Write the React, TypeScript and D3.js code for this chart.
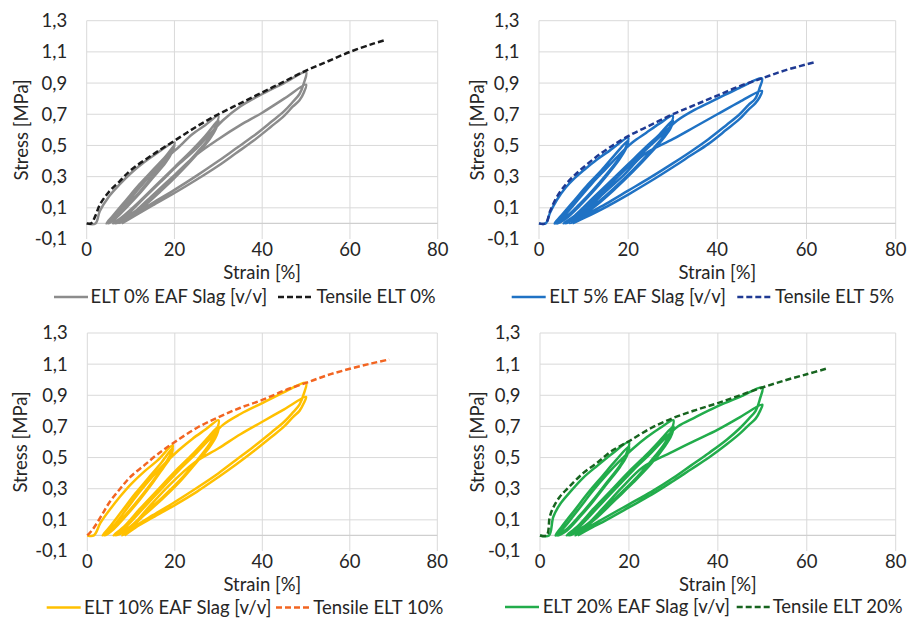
import React from "react";
import * as d3 from "d3";

type P = [number, number];

const strainTicks = [0, 20, 40, 60, 80];
const stressTicks = [-0.1, 0.1, 0.3, 0.5, 0.7, 0.9, 1.1, 1.3];

const cyclicLabels = ["ELT 0% EAF Slag [v/v]", "ELT 5% EAF Slag [v/v]", "ELT 10% EAF Slag [v/v]", "ELT 20% EAF Slag [v/v]"];
const tensileLabels = ["Tensile ELT 0%", "Tensile ELT 5%", "Tensile ELT 10%", "Tensile ELT 20%"];
const cyclicColors = ["#8c8c8c", "#1f72c4", "#ffc000", "#22ac4b"];
const tensileColors = ["#1a1a1a", "#1f3a93", "#f26522", "#17641f"];

const tensile0: P[] = [[0,0],[1,0],[2,0.05],[3,0.12],[5,0.2],[7.5,0.27],[10,0.34],[15,0.44],[20,0.53],[25,0.62],[30,0.7],[35,0.77],[40,0.84],[45,0.91],[50,0.98],[55,1.04],[60,1.1],[65,1.15],[68,1.175]];
const tensile5: P[] = [[0,0],[1.5,0],[2.5,0.08],[4,0.17],[6,0.25],[8,0.31],[10,0.36],[13,0.43],[16,0.49],[20,0.56],[25,0.63],[30,0.7],[35,0.76],[40,0.82],[45,0.88],[50,0.93],[55,0.98],[62,1.035]];
const tensile10: P[] = [[0,0],[1,0.03],[2,0.07],[3.5,0.14],[5,0.21],[7.5,0.3],[10,0.38],[13,0.45],[16,0.52],[20,0.6],[25,0.69],[30,0.76],[35,0.82],[40,0.87],[45,0.93],[50,0.98],[55,1.03],[60,1.07],[65,1.105],[69,1.13]];
const tensile20: P[] = [[0,0],[1.5,0],[2.2,0.12],[3,0.18],[4.5,0.25],[6.5,0.31],[9.7,0.4],[13,0.47],[16,0.54],[20,0.605],[25,0.69],[30,0.755],[35,0.805],[40,0.85],[45,0.9],[50,0.95],[55,0.995],[60,1.035],[64.3,1.07]];

const cyclic0: P[] = [
  [0,0],[2,0],[3,0.08],[5,0.17],[7.5,0.25],[10,0.32],[13,0.39],[16,0.45],[20,0.52],
  [19.5,0.47],[18,0.4],[15,0.3],[12,0.2],[9,0.11],[6.5,0.04],[4.5,0],
  [6,0.05],[9,0.15],[12,0.25],[15,0.34],[18,0.43],[20,0.5],
  [19.5,0.46],[18,0.39],[15,0.29],[12,0.19],[9,0.1],[6.5,0.03],[5,0],
  [7,0.06],[10,0.16],[13,0.26],[16,0.35],[19,0.44],[21,0.49],[24,0.57],[27,0.63],[30,0.69],
  [29.5,0.63],[28,0.55],[25,0.45],[21,0.33],[17,0.22],[13,0.12],[9,0.04],[6,0],
  [8,0.04],[12,0.14],[16,0.25],[20,0.36],[24,0.47],[27,0.56],[30,0.66],
  [29.5,0.61],[28,0.54],[25,0.44],[21,0.32],[17,0.21],[13,0.11],[9,0.03],[6.5,0],
  [9,0.05],[13,0.16],[17,0.27],[21,0.38],[25,0.48],[28,0.57],[31,0.66],[35,0.75],[40,0.83],[45,0.9],[50,0.97],
  [49.5,0.9],[48.5,0.83],[47,0.78],[45,0.72],[42,0.65],[38,0.56],[34,0.48],[30,0.4],[25,0.305],[20,0.215],[15,0.13],[11,0.06],[7.5,0],
  [10,0.05],[15,0.18],[20,0.31],[25,0.44],[30,0.54],[35,0.63],[40,0.71],[45,0.8],[50,0.89],
  [49.5,0.84],[48.5,0.79],[47,0.75],[45,0.69],[42,0.62],[38,0.53],[34,0.45],[30,0.37],[25,0.28],[20,0.195],[15,0.115],[11,0.05],[8,0]
];

const cyclic5: P[] = [
  [0,0],[1.5,0],[2.5,0.07],[4,0.15],[6,0.23],[8,0.29],[10,0.34],[13,0.41],[16,0.47],[20,0.55],
  [19.5,0.49],[18,0.42],[15,0.31],[12,0.21],[9,0.12],[6,0.04],[3.5,0],
  [5,0.05],[8,0.15],[11,0.25],[14,0.34],[17,0.44],[20,0.53],
  [19.5,0.48],[18,0.41],[15,0.3],[12,0.2],[9,0.11],[6,0.03],[4,0],
  [6,0.06],[9,0.16],[12,0.26],[15,0.35],[18,0.44],[21,0.52],[24,0.58],[27,0.64],[30,0.69],
  [29.5,0.63],[28,0.56],[25,0.46],[21,0.34],[17,0.23],[13,0.13],[9,0.05],[5.5,0],
  [8,0.05],[12,0.16],[16,0.27],[20,0.38],[24,0.49],[27,0.57],[30,0.66],
  [29.5,0.61],[28,0.55],[25,0.45],[21,0.33],[17,0.22],[13,0.12],[9,0.04],[6,0],
  [9,0.06],[13,0.17],[17,0.28],[21,0.39],[25,0.5],[28,0.58],[31,0.66],[35,0.73],[40,0.8],[45,0.87],[50,0.93],
  [49.5,0.87],[48.5,0.8],[47,0.76],[45,0.7],[42,0.63],[38,0.54],[34,0.46],[30,0.385],[25,0.295],[20,0.21],[15,0.125],[10.5,0.055],[7,0],
  [9.5,0.05],[14,0.18],[19,0.31],[23.5,0.44],[30,0.54],[35,0.62],[40,0.7],[45,0.78],[50,0.85],
  [49.5,0.81],[48.5,0.77],[47,0.73],[45,0.67],[42,0.6],[38,0.51],[34,0.435],[30,0.36],[25,0.27],[20,0.185],[15,0.105],[10.5,0.04],[7.5,0]
];

const cyclic10: P[] = [
  [0,0],[1.5,0],[3,0.08],[5,0.16],[7.5,0.25],[10,0.33],[13,0.41],[16,0.48],[19.5,0.58],
  [19,0.52],[17.5,0.45],[15,0.35],[12,0.24],[9,0.14],[6,0.05],[3.5,0],
  [5,0.05],[8,0.16],[11,0.27],[14,0.37],[17,0.47],[19.5,0.56],
  [19,0.5],[17.5,0.44],[15,0.34],[12,0.23],[9,0.13],[6,0.04],[4,0],
  [6,0.06],[9,0.17],[12,0.28],[15,0.38],[18,0.47],[21,0.55],[24,0.62],[27,0.68],[30,0.74],
  [29.5,0.67],[28,0.59],[25,0.48],[21,0.35],[17,0.24],[13,0.14],[9.5,0.05],[6,0],
  [8.5,0.06],[12,0.17],[16,0.29],[20,0.41],[24,0.52],[27,0.61],[30,0.7],
  [29.5,0.64],[28,0.57],[25,0.47],[21,0.34],[17,0.23],[13,0.13],[9.5,0.04],[6.5,0],
  [9,0.06],[13,0.18],[17,0.3],[21,0.42],[25,0.53],[28,0.62],[31,0.71],[35,0.78],[40,0.85],[45,0.92],[50,0.98],
  [49.5,0.91],[48.5,0.84],[47,0.79],[45,0.73],[42,0.66],[38,0.57],[34,0.485],[30,0.4],[25,0.305],[20,0.215],[15,0.13],[11,0.06],[8,0],
  [10,0.05],[14,0.18],[19,0.33],[24.6,0.47],[30,0.56],[35,0.65],[40,0.73],[45,0.81],[50,0.89],
  [49.5,0.85],[48.5,0.8],[47,0.76],[45,0.7],[42,0.63],[38,0.54],[34,0.455],[30,0.375],[25,0.28],[20,0.195],[15,0.115],[11,0.05],[8.5,0]
];

const cyclic20: P[] = [
  [0,0],[2,0],[3,0.12],[4.5,0.2],[6.5,0.27],[9.7,0.37],[13,0.45],[16,0.52],[20,0.6],
  [19.5,0.53],[18,0.45],[15,0.34],[12,0.23],[9,0.13],[6,0.04],[3.5,0],
  [5,0.06],[8,0.17],[11,0.28],[14,0.38],[17,0.48],[20,0.57],
  [19.5,0.51],[18,0.44],[15,0.33],[12,0.22],[9,0.12],[6,0.03],[4,0],
  [6,0.07],[9,0.18],[12,0.29],[15,0.39],[18,0.48],[21,0.56],[24,0.63],[27,0.69],[30,0.74],
  [29.5,0.67],[28,0.59],[25,0.48],[21,0.35],[17,0.24],[13,0.13],[9.5,0.05],[6,0],
  [8.5,0.06],[12,0.17],[16,0.29],[20,0.41],[24,0.52],[27,0.61],[30,0.7],
  [29.5,0.64],[28,0.57],[25,0.46],[21,0.34],[17,0.23],[13,0.12],[9.5,0.04],[6.5,0],
  [9,0.06],[13,0.18],[17,0.3],[21,0.42],[25,0.53],[28,0.62],[31,0.7],[35,0.76],[40,0.83],[45,0.89],[50,0.95],
  [49.5,0.88],[48.5,0.8],[47,0.75],[45,0.69],[42,0.615],[38,0.53],[34,0.45],[30,0.37],[25,0.28],[20,0.2],[15,0.12],[11,0.055],[8,0],
  [10,0.05],[14,0.17],[18.5,0.31],[23.2,0.44],[30,0.54],[35,0.61],[40,0.68],[45,0.76],[50,0.84],
  [49.5,0.8],[48.5,0.75],[47,0.71],[45,0.655],[42,0.585],[38,0.5],[34,0.425],[30,0.35],[25,0.26],[20,0.18],[15,0.1],[11,0.04],[8.5,0]
];

const cyclicSeries = [cyclic0, cyclic5, cyclic10, cyclic20];
const tensileSeries = [tensile0, tensile5, tensile10, tensile20];

// layout (pixel positions of each panel)
const layout = [
  { x0: 86.7, x1: 437.7, y0: 20.7, y1: 239, titleX: 22, legY: 297, leg: [54, 90.5, 278, 316.5] },
  { x0: 539, x1: 895.7, y0: 20.7, y1: 239, titleX: 478, legY: 297, leg: [511.7, 549.3, 737.3, 775] },
  { x0: 87.3, x1: 437.3, y0: 333, y1: 551, titleX: 21, legY: 607.5, leg: [46.7, 84, 276, 313.3] },
  { x0: 540, x1: 895.7, y0: 333, y1: 551, titleX: 478, legY: 607, leg: [505, 542.7, 736.7, 772.7] },
];

const FONT = "Lato, 'Open Sans', sans-serif";
const FS = 18.5;
const TXT = "#262626";
const GRID = "#d9d9d9";

const fmt = (v: number) => v.toFixed(1).replace(".", ",");

function Panel({ i }: { i: number }) {
  const L = layout[i];
  const x = d3.scaleLinear().domain([0, 80]).range([L.x0, L.x1]);
  const y = d3.scaleLinear().domain([-0.1, 1.3]).range([L.y1, L.y0]);
  const line = d3.line<P>().x((d) => x(d[0])).y((d) => y(d[1])).curve(d3.curveCatmullRom.alpha(0.5));
  const cx = (L.x0 + L.x1) / 2;
  return (
    <g>
      {stressTicks.filter((t) => t > -0.1).map((t) => (
        <line key={"h" + t} x1={L.x0} x2={L.x1} y1={y(t)} y2={y(t)} stroke={GRID} strokeWidth={1} />
      ))}
      {strainTicks.map((t) => (
        <line key={"v" + t} x1={x(t)} x2={x(t)} y1={y(1.3)} y2={y(-0.1)} stroke={GRID} strokeWidth={1} />
      ))}
      <line x1={L.x0} x2={L.x1} y1={y(0)} y2={y(0)} stroke="#cfcfcf" strokeWidth={1.2} />
      {stressTicks.map((t) => (
        <text key={"yl" + t} x={L.x0 - 19.5} y={y(t)} dy="0.35em" textAnchor="end" fontSize={FS} fontFamily={FONT} fill={TXT}>
          {fmt(t)}
        </text>
      ))}
      {strainTicks.map((t) => (
        <text key={"xl" + t} x={x(t)} y={L.y1 + 11} dy="0.35em" textAnchor="middle" fontSize={FS} fontFamily={FONT} fill={TXT}>
          {t}
        </text>
      ))}
      <text x={cx} y={L.y1 + 34} dy="0.35em" textAnchor="middle" fontSize={FS} fontFamily={FONT} fill={TXT}>
        Strain [%]
      </text>
      <text
        transform={`translate(${L.titleX},${(L.y0 + L.y1) / 2}) rotate(-90)`}
        dy="0.35em"
        textAnchor="middle"
        fontSize={FS}
        fontFamily={FONT}
        fill={TXT}
      >
        Stress [MPa]
      </text>
      <path d={line(cyclicSeries[i]) || ""} fill="none" stroke={cyclicColors[i]} strokeWidth={2.5} strokeLinejoin="round" />
      <path
        d={line(tensileSeries[i]) || ""}
        fill="none"
        stroke={tensileColors[i]}
        strokeWidth={2.5}
        strokeDasharray="6,3"
      />
      <line x1={L.leg[0]} x2={L.leg[0] + 34} y1={L.legY} y2={L.legY} stroke={cyclicColors[i]} strokeWidth={2.5} />
      <text x={L.leg[1]} y={L.legY} dy="0.35em" fontSize={FS} fontFamily={FONT} fill={TXT}>
        {cyclicLabels[i]}
      </text>
      <line x1={L.leg[2]} x2={L.leg[2] + 35} y1={L.legY} y2={L.legY} stroke={tensileColors[i]} strokeWidth={2.5} strokeDasharray="6,3" />
      <text x={L.leg[3]} y={L.legY} dy="0.35em" fontSize={FS} fontFamily={FONT} fill={TXT}>
        {tensileLabels[i]}
      </text>
    </g>
  );
}

export default function App() {
  return (
    <svg width={907} height={618} style={{ position: "absolute", left: 0, top: 0, background: "#fff" }}>
      <rect width={907} height={618} fill="#fff" />
      {[0, 1, 2, 3].map((i) => (
        <Panel key={i} i={i} />
      ))}
    </svg>
  );
}
